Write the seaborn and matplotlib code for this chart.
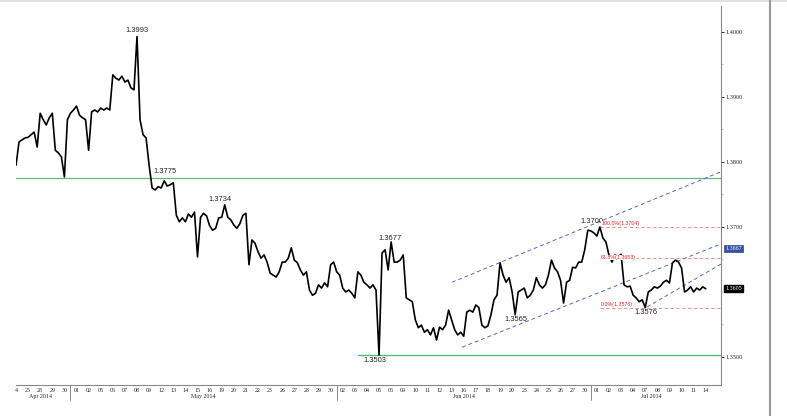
import numpy as np
import pandas as pd
import matplotlib.pyplot as plt
from matplotlib.lines import Line2D
import seaborn as sns

sns.set_style("white")
plt.rcParams['font.family'] = ['Liberation Sans', 'DejaVu Sans']

# EURUSD, one value every 6 hours (day index = position / 4)
price = [
    1.3795, 1.3831, 1.3834, 1.3837, 1.3838, 1.3842, 1.3846, 1.3823, 1.3875, 1.3865,
    1.3857, 1.3868, 1.3875, 1.3818, 1.3814, 1.3808, 1.3777, 1.3865, 1.3875, 1.3880,
    1.3886, 1.3872, 1.3868, 1.3865, 1.3818, 1.3877, 1.3880, 1.3877, 1.3883, 1.3880,
    1.3883, 1.3880, 1.3934, 1.3929, 1.3926, 1.3932, 1.3923, 1.3926, 1.3914, 1.3911,
    1.3993, 1.3865, 1.3842, 1.3837, 1.3795, 1.3760, 1.3757, 1.3762, 1.3760, 1.3771,
    1.3763, 1.3765, 1.3768, 1.3718, 1.3708, 1.3714, 1.3708, 1.3720, 1.3715, 1.3723,
    1.3654, 1.3715, 1.3721, 1.3717, 1.3702, 1.3695, 1.3698, 1.3714, 1.3715, 1.3734,
    1.3715, 1.3711, 1.3703, 1.3698, 1.3705, 1.3718, 1.3721, 1.3642, 1.3680, 1.3675,
    1.3662, 1.3652, 1.3657, 1.3646, 1.3629, 1.3626, 1.3623, 1.3631, 1.3646, 1.3646,
    1.3652, 1.3668, 1.3649, 1.3645, 1.3634, 1.3626, 1.3631, 1.3603, 1.3595, 1.3598,
    1.3611, 1.3606, 1.3614, 1.3608, 1.3642, 1.3646, 1.3631, 1.3626, 1.3606, 1.3600,
    1.3603, 1.3598, 1.3591, 1.3631, 1.3626, 1.3615, 1.3611, 1.3606, 1.3611, 1.3603,
    1.3503, 1.3660, 1.3665, 1.3634, 1.3677, 1.3646, 1.3646, 1.3649, 1.3657, 1.3591,
    1.3588, 1.3585, 1.3557, 1.3545, 1.3549, 1.3538, 1.3542, 1.3534, 1.3545, 1.3526,
    1.3546, 1.3542, 1.3549, 1.3572, 1.3557, 1.3542, 1.3534, 1.3538, 1.3532, 1.3569,
    1.3572, 1.3569, 1.3580, 1.3576, 1.3549, 1.3545, 1.3548, 1.3565, 1.3588, 1.3595,
    1.3645, 1.3626, 1.3615, 1.3622, 1.3600, 1.3565, 1.3600, 1.3603, 1.3606, 1.3591,
    1.3595, 1.3603, 1.3622, 1.3611, 1.3606, 1.3611, 1.3626, 1.3649, 1.3637, 1.3631,
    1.3618, 1.3583, 1.3615, 1.3618, 1.3638, 1.3637, 1.3646, 1.3646, 1.3665, 1.3695,
    1.3694, 1.3691, 1.3686, 1.3700, 1.3683, 1.3677, 1.3657, 1.3646, 1.3657, 1.3654,
    1.3658, 1.3611, 1.3608, 1.3609, 1.3595, 1.3591, 1.3585, 1.3588, 1.3576, 1.3600,
    1.3603, 1.3608, 1.3606, 1.3609, 1.3615, 1.3618, 1.3614, 1.3645, 1.3649, 1.3646,
    1.3637, 1.3600, 1.3603, 1.3608, 1.3600, 1.3606, 1.3603, 1.3608, 1.3605,
]

day_labels = ["4", "25", "28", "29", "30",
              "01", "02", "05", "06", "07", "08", "09", "12", "13", "14", "15", "16",
              "19", "20", "21", "22", "23", "26", "27", "28", "29", "30",
              "02", "03", "04", "05", "06", "09", "10", "11", "12", "13", "16", "17",
              "18", "19", "20", "23", "24", "25", "26", "27", "30",
              "01", "02", "03", "04", "07", "08", "09", "10", "11", "14"]
months = ["Apr 2014", "May 2014", "Jun 2014", "Jul 2014"]
month_start = [0, 5, 27, 48]

# swing labels: (day, price, text)
swing_day = [10.0, 30.9, 29.67, 16.86, 41.32, 47.6, 52.07]
swing_px = [1.4003, 1.3683, 1.3495, 1.3743, 1.3557, 1.3709, 1.3568]
swing_txt = ["1.3993", "1.3677", "1.3503", "1.3734", "1.3565", "1.3700", "1.3576"]

support = [1.3775, 1.3503]
fib_levels = [1.3700, 1.3653, 1.3576]
fib_txt = ["100.0%(1.3704)", "61.8%(1.3653)", "0.0%(1.3576)"]
chan_upper = [(36.03, 1.3615), (58.26, 1.3785)]
chan_lower = [(36.86, 1.3515), (58.26, 1.3674)]
short_line = [(52.15, 1.3577), (58.26, 1.3643)]
last_px = 1.3605
chan_px = 1.3667

df = pd.DataFrame({"day": np.arange(len(price)) / 4.0, "price": price})

fig = plt.figure(figsize=(7.87, 4.16), dpi=100)
ax = fig.add_axes([16 / 787, 1 - 385 / 416, 705 / 787, 379 / 416])

x_end = 58.26
ax.set_xlim(0, x_end)
ax.set_ylim(1.34569, 1.4040)

# levels
ax.axhline(support[0], color="#5dbb7f", lw=0.9)
ax.plot([28.26, x_end], [support[1]] * 2, color="#4cc07a", lw=1.0)
for lv in fib_levels:
    ax.plot([48.26, x_end], [lv, lv], color="#f27a7a", lw=0.6, ls=(0, (4, 3)))
for seg in (chan_upper, chan_lower, short_line):
    ax.plot([seg[0][0], seg[1][0]], [seg[0][1], seg[1][1]], color="#5566cc",
            lw=0.7, ls=(0, (4, 3)))

sns.lineplot(data=df, x="day", y="price", ax=ax, color="black", lw=1.2)

for d, p, t in zip(swing_day, swing_px, swing_txt):
    ax.text(d, p, t, fontsize=5.4, ha="center", va="center", color="#222222")
ax.text(11.32, 1.3785, "1.3775", fontsize=5.4, ha="left", va="center", color="#222222")
for lv, t, off in zip(fib_levels, fib_txt, [0.0005, 0.0, 0.0005]):
    ax.text(48.35, lv + off, t, fontsize=3.8, color="#e02020", ha="left", va="center",
            bbox=dict(facecolor="white", edgecolor="none", pad=0.3))

# axes styling
for s in ["left", "top"]:
    ax.spines[s].set_visible(False)
for s in ["right", "bottom"]:
    ax.spines[s].set_color("#888888")
    ax.spines[s].set_linewidth(0.8)
ax.set_xlabel("")
ax.set_ylabel("")

ax.yaxis.tick_right()
ax.set_yticks([1.35, 1.37, 1.38, 1.39, 1.40])
ax.set_yticklabels([f"{v:.4f}" for v in [1.35, 1.37, 1.38, 1.39, 1.40]],
                   fontsize=4.5, family="Liberation Serif")
ax.set_yticks([1.355, 1.36, 1.365, 1.375, 1.385, 1.395], minor=True)
ax.tick_params(axis="y", which="major", length=2.5, width=0.6, pad=1, right=True, color="black")
ax.tick_params(axis="y", which="minor", length=1.5, width=0.5, right=True, color="#aaaaaa")

ax.set_xticks(np.arange(len(day_labels)))
ax.set_xticklabels(day_labels, fontsize=4.3, family="Liberation Serif")
ax.tick_params(axis="x", length=0, pad=2)

xt = ax.get_xaxis_transform()
bounds = month_start + [len(day_labels)]
for i, m in enumerate(months):
    c = (bounds[i] + bounds[i + 1] - 1) / 2
    ax.text(c, -0.031, m, transform=xt, fontsize=4.3, ha="center", va="center",
            family="Liberation Serif")
    if i > 0:
        b = bounds[i] - 0.5
        ax.plot([b, b], [0, -0.04], transform=xt, color="#777777", lw=0.6, clip_on=False)

yt = ax.get_yaxis_transform()
ax.text(1.006, chan_px, f"{chan_px:.4f}", transform=yt, fontsize=4.3, color="white",
        va="center", ha="left", family="Liberation Serif",
        bbox=dict(facecolor="#3553a6", edgecolor="#1d2f70", pad=0.8, lw=0.4))
ax.text(1.006, last_px, f"{last_px:.4f}", transform=yt, fontsize=4.3, color="white",
        va="center", ha="left", family="Liberation Serif",
        bbox=dict(facecolor="black", edgecolor="black", pad=0.8))

# screenshot frame bits
fig.add_artist(Line2D([0, 1], [0.997, 0.997], color="#dddddd", lw=1.2))
fig.add_artist(Line2D([770 / 787, 770 / 787], [0, 1], color="#999999", lw=1.5))

fig.savefig("out.png", dpi=100)
